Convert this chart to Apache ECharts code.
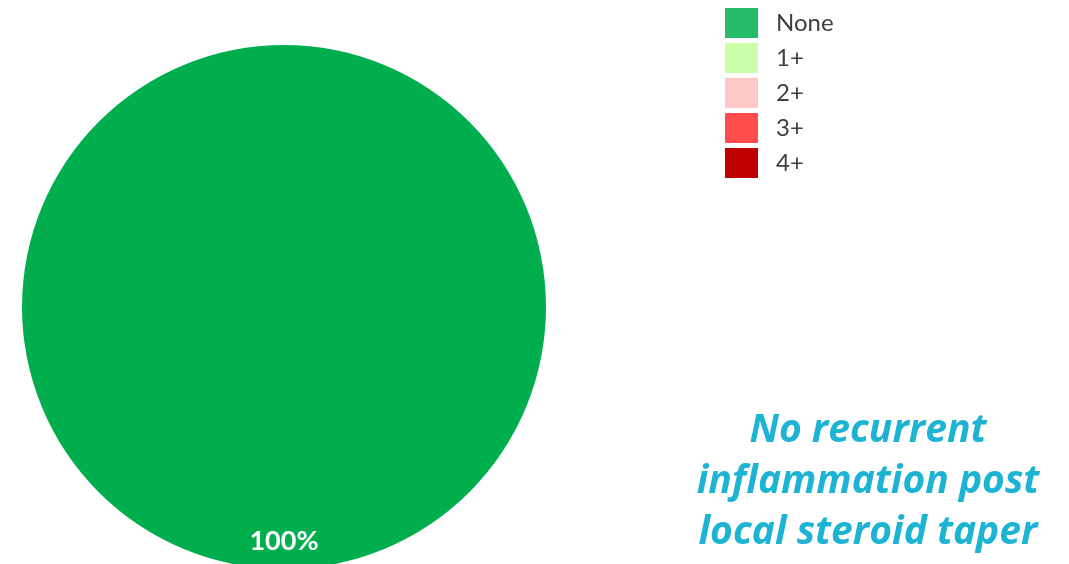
<!DOCTYPE html>
<html><head><meta charset="utf-8">
<script src="https://cdn.jsdelivr.net/npm/echarts@6/dist/echarts.min.js"></script>
<style>html,body{margin:0;padding:0;background:#fff}#c{width:1069px;height:564px}</style>
</head><body><div id="c"></div>
<script>
const categories = ['None', '1+', '2+', '3+', '4+'];
const values = [100, 0, 0, 0, 0];
const sliceColors = ['#00ae4e', '#ccffaa', '#ffc8c8', '#ff4c4c', '#c00000'];
const legendColors = ['#25bb6a', '#ccffaa', '#ffc8c8', '#ff4c4c', '#c00000'];
const noteLines = ['No recurrent', 'inflammation post', 'local steroid taper'];

const chart = echarts.init(document.getElementById('c'));
const total = values.reduce((a, b) => a + b, 0);
chart.setOption({
  animation: false,
  legend: {
    orient: 'vertical', left: 725, top: 8, padding: 0,
    itemWidth: 33, itemHeight: 30, itemGap: 5,
    icon: 'rect',
    textStyle: { fontSize: 24, color: '#404040', fontFamily: 'Lato', padding: [3, 0, 0, 13] },
    data: categories.map((c, i) => ({ name: c, itemStyle: { color: legendColors[i] } }))
  },
  series: [{
    type: 'pie',
    center: [284, 307], radius: [0, 262],
    startAngle: 90, clockwise: true,
    avoidLabelOverlap: false,
    label: {
      show: true, position: 'inside', color: '#fff', fontSize: 27, fontWeight: 'bold', fontFamily: 'Lato',
      formatter: p => p.value > 0 ? Math.round(p.value / total * 100) + '%' : ''
    },
    labelLayout: { dy: 100 },
    labelLine: { show: false },
    itemStyle: { borderWidth: 0 },
    emphasis: { disabled: true },
    data: categories.map((c, i) => ({ name: c, value: values[i], itemStyle: { color: sliceColors[i] } }))
  }],
  graphic: noteLines.map((t, i) => ({
    type: 'text', x: 868, y: 431 + i * 51,
    style: { text: t, fill: '#1db3d3', font: 'italic bold 39px "Open Sans"', textAlign: 'center', textVerticalAlign: 'middle' }
  }))
});
</script></body></html>
